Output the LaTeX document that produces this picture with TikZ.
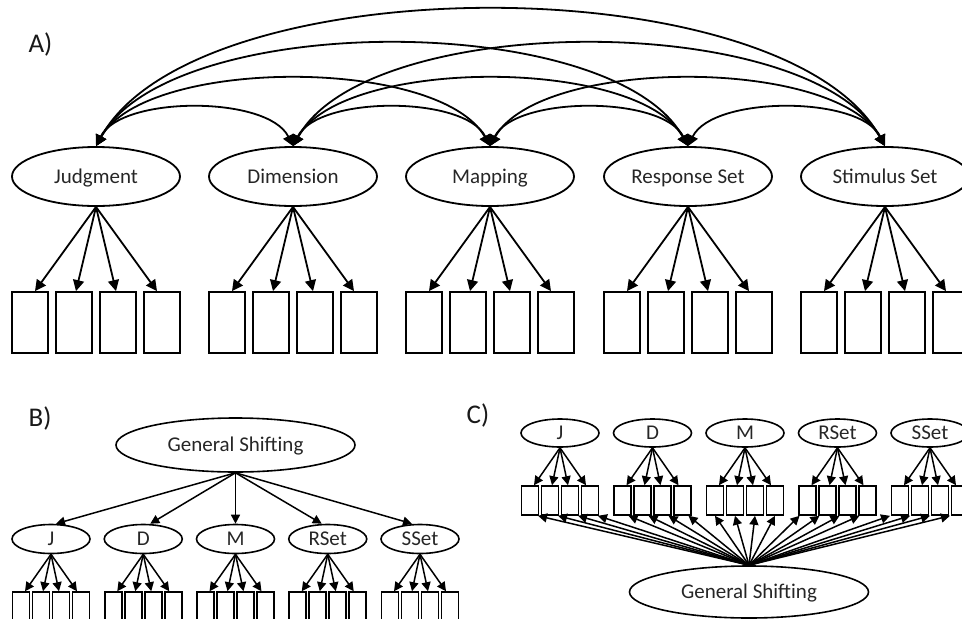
\documentclass[tikz,border=0pt]{standalone}
\usepackage{fontspec}
\setmainfont{Carlito}
\usetikzlibrary{shapes.geometric,arrows.meta,calc}
\begin{document}
\begin{tikzpicture}[x=1pt,y=-1pt,
  lbl/.style={font=\fontsize{21}{25}\selectfont, text=black!85, text height=13.5pt, text depth=0pt, inner sep=0pt},
  plabel/.style={font=\fontsize{27}{32}\selectfont, text=black!90, text height=17.4pt, text depth=0pt, inner sep=0pt},
  bigell/.style={ellipse, draw, line width=1.8pt, minimum width=168pt, minimum height=59pt, lbl},
  gsell/.style={ellipse, draw, line width=1.6pt, minimum width=239pt, minimum height=54pt, lbl},
  smell/.style={ellipse, draw, line width=1.6pt, minimum width=78pt, minimum height=29pt, lbl},
  rectA/.style={draw, line width=1.8pt, minimum width=36pt, minimum height=61pt, inner sep=0pt},
  rectB/.style={draw, line width=1.6pt, minimum width=17pt, minimum height=40pt, inner sep=0pt},
  rectC/.style={draw, line width=1.6pt, minimum width=17pt, minimum height=29pt, inner sep=0pt},
  arrA/.style={-{Triangle[length=11pt,width=11pt]}, line width=1.8pt},
  covA/.style={{Triangle[length=11pt,width=11pt]}-{Triangle[length=11pt,width=11pt]}, line width=1.8pt},
  arrB/.style={-{Triangle[length=9pt,width=9pt]}, line width=1.5pt}
]
\useasboundingbox (0,0) rectangle (962,619);
\clip (0,0) rectangle (962,619);

% ---------------- Panel A ----------------
\node[plabel] (labA) at (40.5,44) {A)};
\node[bigell] (aJ) at (96,176.5) {Judgment};
\node[bigell] (aD) at (293,176.5) {Dimension};
\node[bigell] (aM) at (490,176.5) {Mapping};
\node[bigell] (aR) at (688,176.5) {Response Set};
\node[bigell] (aS) at (885,176.5) {Stimulus Set};

\foreach \e in {aJ,aD,aM,aR,aS} {
  \foreach \i/\dx/\tx in {1/-66/5, 2/-22/2, 3/22/-2, 4/66/-5} {
    \node[rectA] (\e\i) at ($(\e)+(\dx,146)$) {};
    \draw[arrA] (\e.south) -- ($(\e\i.north)+(\tx,0)$);
  }
}

\foreach \a/\b/\d/\h in {aJ/aD/197/38, aD/aM/197/38, aM/aR/198/38, aR/aS/197/38,
                         aJ/aM/394/67, aD/aR/395/67, aM/aS/395/67,
                         aJ/aR/592/102, aD/aS/592/102,
                         aJ/aS/789/136} {
  \draw[covA] (\a.north) .. controls +({0.127*\d},{-\h/0.75}) and +({-0.127*\d},{-\h/0.75}) .. (\b.north);
}

% ---------------- Panel B ----------------
\node[plabel] (labB) at (40,418) {B)};
\node[gsell] (bG) at (235.5,445) {General Shifting};
\foreach \n/\t/\x/\tx in {bJ/J/51/5, bD/D/143.25/7, bM/M/235.5/0, bR/RSet/327.75/-6, bS/SSet/420/-8} {
  \node[smell] (\n) at (\x,539) {\t};
  \draw[arrB] (bG.south) -- ($(\n.north)+(\tx,0)$);
  \foreach \i/\dx/\ox in {1/-30/4, 2/-10/2, 3/10/-2, 4/30/-4} {
    \node[rectB] (\n\i) at ($(\n)+(\dx,73)$) {};
    \draw[arrB] (\n.south) -- ($(\n\i.north)+(\ox,0)$);
  }
}

% ---------------- Panel C ----------------
\node[plabel] (labC) at (478,415) {C)};
\node[gsell, minimum height=52pt] (cG) at (749,592) {General Shifting};
\foreach \n/\t/\x/\gx in {cJ/J/560/8, cD/D/652.5/6, cM/M/745/0, cR/RSet/837.5/-8, cS/SSet/930/-10} {
  \node[smell, minimum height=28pt] (\n) at (\x,433) {\t};
  \foreach \i/\dx/\ox in {1/-30/4, 2/-10/2, 3/10/-2, 4/30/-4} {
    \node[rectC] (\n\i) at ($(\n)+(\dx,67.5)$) {};
    \draw[arrB] (\n.south) -- ($(\n\i.north)+(\ox,0)$);
    \draw[arrB] (cG.north) -- ($(\n\i.south)+(\gx,0)$);
  }
}
\end{tikzpicture}
\end{document}
